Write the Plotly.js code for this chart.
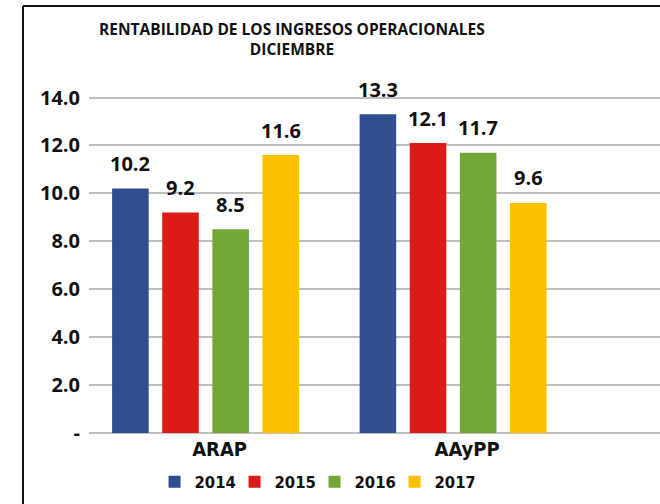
<!DOCTYPE html>
<html>
<head>
<meta charset="utf-8">
<script src="https://cdn.plot.ly/plotly-3.0.1.min.js"></script>
<style>html,body{margin:0;padding:0;background:#fff;}#chart{width:660px;height:504px;}</style>
</head>
<body>
<div id="chart"></div>
<script>
var categories = ['ARAP', 'AAyPP'];
var years = ['2014', '2015', '2016', '2017'];
var values2014 = [10.2, 13.3];
var values2015 = [9.2, 12.1];
var values2016 = [8.5, 11.7];
var values2017 = [11.6, 9.6];
var colors = ['#2f4e8f', '#dc1a17', '#72a736', '#fbc000'];
var yTickVals = [0, 2, 4, 6, 8, 10, 12, 14];
var yTickText = ['-', '2.0', '4.0', '6.0', '8.0', '10.0', '12.0', '14.0'];
var titleText = 'RENTABILIDAD DE LOS INGRESOS OPERACIONALES<br>DICIEMBRE';

var series = [values2014, values2015, values2016, values2017];
var bargap = 0.19, bargroupgap = 0.27;
var narrow = 'DejaVu Sans Condensed, Liberation Sans Narrow, sans-serif';

var traces = series.map(function (vals, i) {
  return {
    type: 'bar', name: years[i], x: categories, y: vals,
    marker: {color: colors[i]}, hoverinfo: 'skip'
  };
});

var slot = (1 - bargap) / series.length;
var annotations = [];
series.forEach(function (vals, i) {
  vals.forEach(function (v, c) {
    annotations.push({
      x: c + (i - (series.length - 1) / 2) * slot, y: v, xref: 'x', yref: 'y',
      text: v.toFixed(1), showarrow: false, yanchor: 'middle', yshift: 25,
      font: {family: 'Open Sans, sans-serif', size: 20, color: '#111', weight: 700}
    });
  });
});

var layout = {
  width: 660, height: 504,
  margin: {l: 89, r: 0, t: 70, b: 71},
  paper_bgcolor: '#fff', plot_bgcolor: '#fff',
  barmode: 'group', bargap: bargap, bargroupgap: bargroupgap,
  title: {
    text: titleText, xref: 'container', yref: 'container',
    x: 0.4424, xanchor: 'center', y: 0.93, yanchor: 'top',
    font: {family: 'Open Sans, sans-serif', size: 15.5, color: '#111', weight: 700}
  },
  xaxis: {
    type: 'category', range: [-0.471, 1.836], showgrid: false, zeroline: false,
    showline: false, ticks: '', ticklabelshift: 14, ticklabelstandoff: 2,
    tickfont: {family: narrow, size: 20, color: '#111', weight: 700},
    fixedrange: true
  },
  yaxis: {
    range: [0, 15.15], tickvals: yTickVals, ticktext: yTickText,
    showgrid: true, gridcolor: '#bfbfbf', gridwidth: 2,
    zeroline: true, zerolinecolor: '#bfbfbf', zerolinewidth: 2,
    showline: false, ticks: '', ticklabelstandoff: 8,
    tickfont: {family: 'Open Sans, sans-serif', size: 20, color: '#111', weight: 700},
    fixedrange: true
  },
  legend: {
    orientation: 'h', x: 0.395, xanchor: 'center', y: -0.135, yanchor: 'middle',
    font: {family: narrow, size: 16.5, color: '#111', weight: 700},
    traceorder: 'normal', entrywidth: 35, itemwidth: 30
  },
  annotations: annotations,
  shapes: [
    {type: 'line', xref: 'paper', yref: 'paper', x0: -0.1156, x1: -0.1156, y0: 1.176, y1: -0.2,
     line: {color: '#111', width: 2}},
    {type: 'line', xref: 'paper', yref: 'paper', x0: -0.1156, x1: 1.01, y0: 1.176, y1: 1.176,
     line: {color: '#111', width: 2}}
  ]
};

Plotly.newPlot('chart', traces, layout, {displayModeBar: false, staticPlot: true});
</script>
</body>
</html>
